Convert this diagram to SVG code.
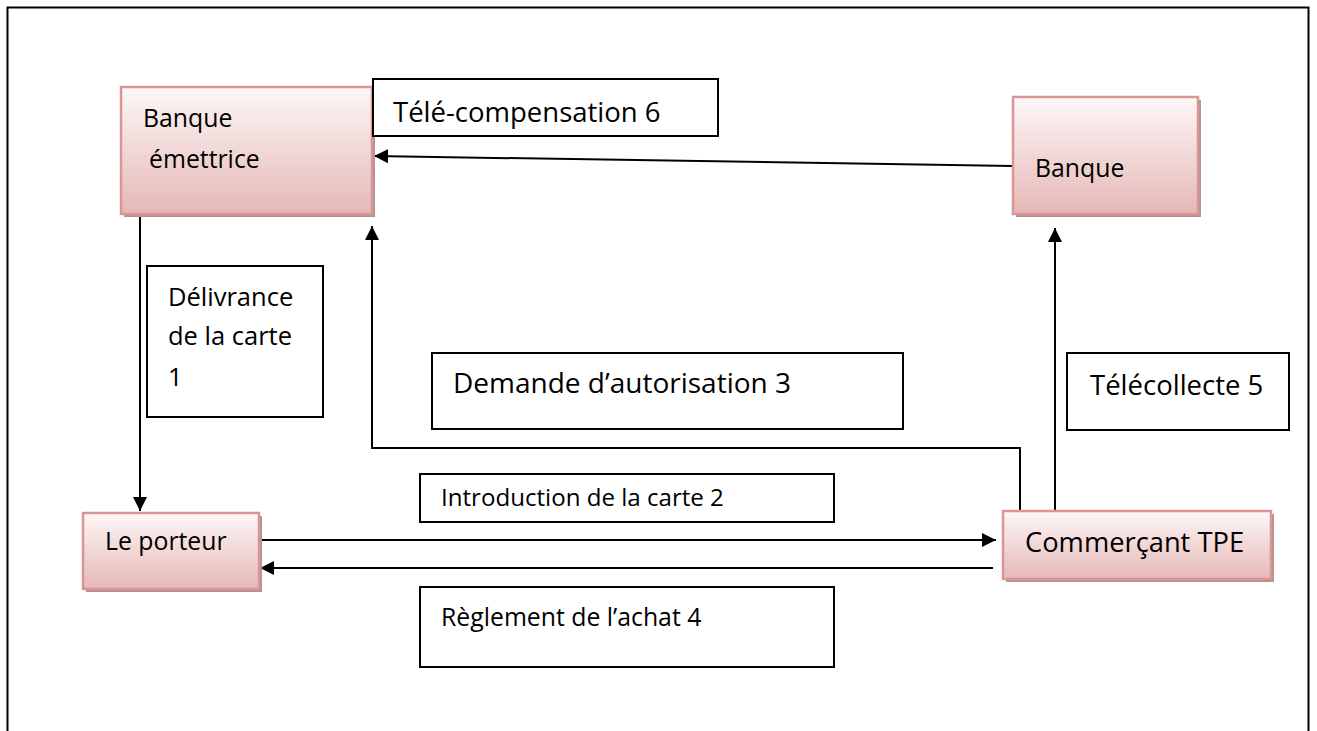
<svg xmlns="http://www.w3.org/2000/svg" width="1317" height="731" viewBox="0 0 1317 731">
<style>
.node{fill:url(#g);stroke:#d99694;stroke-width:2.5}
.sh{fill:#b39393}
.lbl{fill:#fff;stroke:#000;stroke-width:2}
.c{fill:none;stroke:#000;stroke-width:2}
text{font-family:"Open Sans","Liberation Sans",sans-serif;fill:#000}
.n{font-size:24.8px}
.l{font-size:27.5px}
</style>
<defs>
<linearGradient id="g" x1="0" y1="0" x2="0" y2="1">
<stop offset="0" stop-color="#fdf7f7"/>
<stop offset="1" stop-color="#e6b8b7"/>
</linearGradient>
<marker id="ah" markerUnits="userSpaceOnUse" markerWidth="16" markerHeight="16" refX="14" refY="7" orient="auto" viewBox="0 0 16 16">
<path d="M0,0 L14,7 L0,14 z" fill="#000"/>
</marker>
</defs>
<rect x="7.5" y="7.5" width="1301" height="760" fill="none" stroke="#000" stroke-width="2"/>

<g id="connectors">
<line class="c" x1="1013" y1="166" x2="374" y2="156" marker-end="url(#ah)"/>
<line class="c" x1="140" y1="216" x2="140" y2="511" marker-end="url(#ah)"/>
<polyline class="c" points="1020,511 1020,448 372,448 372,226" marker-end="url(#ah)"/>
<line class="c" x1="1055" y1="511" x2="1055" y2="228" marker-end="url(#ah)"/>
<line class="c" x1="259" y1="540" x2="996" y2="540" marker-end="url(#ah)"/>
<line class="c" x1="993" y1="568" x2="260" y2="568" marker-end="url(#ah)"/>
</g>

<g id="banque-emettrice">
<rect class="sh" x="124" y="90" width="251" height="127"/>
<rect class="node" x="121" y="87" width="251" height="127"/>
<text class="n" x="143" y="127">Banque</text>
<text class="n" x="149" y="168">émettrice</text>
</g>

<g id="banque">
<rect class="sh" x="1016" y="100" width="185" height="117"/>
<rect class="node" x="1013" y="97" width="185" height="117"/>
<text class="n" x="1035" y="177">Banque</text>
</g>

<g id="le-porteur">
<rect class="sh" x="86" y="516" width="176" height="76"/>
<rect class="node" x="83" y="513" width="176" height="76"/>
<text class="n" x="105" y="550">Le porteur</text>
</g>

<g id="commercant">
<rect class="sh" x="1006" y="514" width="268" height="68"/>
<rect class="node" x="1003" y="511" width="268" height="68"/>
<text class="n" x="1025" y="552" style="font-size:27.3px">Commerçant TPE</text>
</g>

<g id="lbl-telecompensation">
<rect class="lbl" x="373" y="79" width="345" height="57"/>
<text class="l" x="393" y="122">Télé-compensation 6</text>
</g>

<g id="lbl-delivrance">
<rect class="lbl" x="147" y="266" width="176" height="151"/>
<text class="l" x="168" y="306" style="font-size:25.5px">Délivrance</text>
<text class="l" x="168" y="345" style="font-size:25.5px">de la carte</text>
<text class="l" x="168" y="386" style="font-size:25.5px">1</text>
</g>

<g id="lbl-demande">
<rect class="lbl" x="432" y="353" width="471" height="76"/>
<text class="l" x="453" y="393" style="font-size:28px">Demande d’autorisation 3</text>
</g>

<g id="lbl-telecollecte">
<rect class="lbl" x="1067" y="353" width="222" height="77"/>
<text class="l" x="1090" y="395">Télécollecte 5</text>
</g>

<g id="lbl-introduction">
<rect class="lbl" x="420" y="474" width="414" height="48"/>
<text class="n" x="441" y="506" style="font-size:24.1px">Introduction de la carte 2</text>
</g>

<g id="lbl-reglement">
<rect class="lbl" x="420" y="587" width="414" height="80"/>
<text class="n" x="441" y="626">Règlement de l’achat 4</text>
</g>
</svg>
